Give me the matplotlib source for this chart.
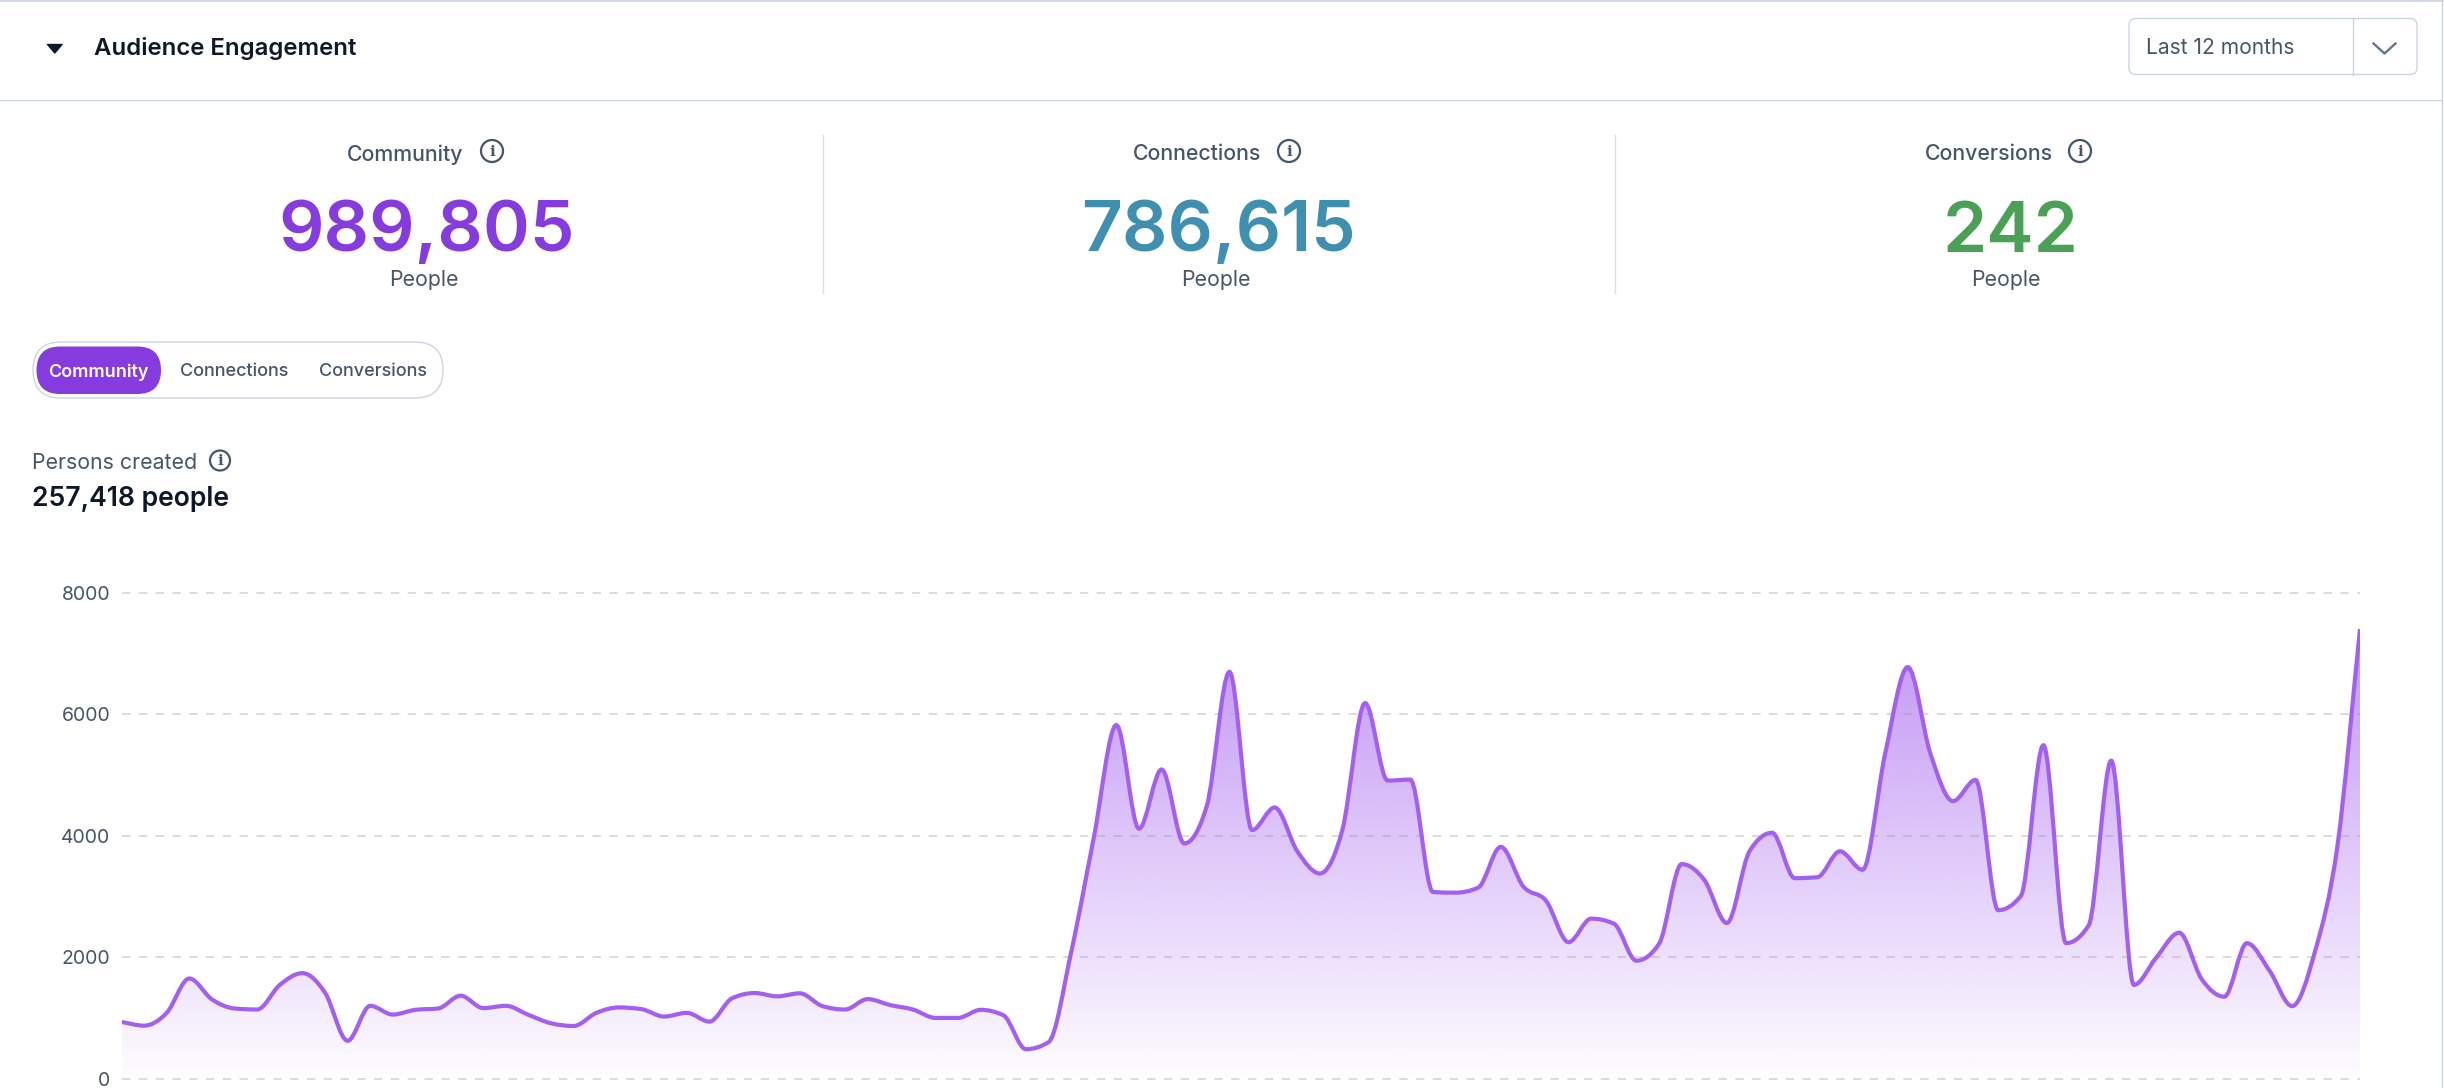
import numpy as np
import matplotlib
matplotlib.use("Agg")
import matplotlib.pyplot as plt
from matplotlib.patches import FancyBboxPatch, Circle, Polygon, PathPatch
from matplotlib.path import Path

plt.rcParams['font.family'] = ['Inter', 'DejaVu Sans']

# ---- data ----
persons_created = [
    931, 870, 1081, 1647, 1303, 1153, 1136, 1541, 1735, 1414,
    621, 1197, 1053, 1131, 1153, 1364, 1159, 1197, 1048, 909,
    865, 1081, 1170, 1142, 1020, 1081, 937, 1320, 1408, 1353,
    1403, 1192, 1136, 1308, 1209, 1136, 998, 998, 1131, 1042,
    482, 599, 2079, 3964, 5821, 4113, 5089, 3870, 4491, 6697,
    4091, 4463, 3742, 3376, 4103, 6182, 4906, 4923, 3071, 3060,
    3143, 3814, 3160, 2927, 2245, 2633, 2550, 1940, 2218, 3531,
    3271, 2561, 3742, 4047, 3299, 3315, 3742, 3437, 5350, 6775,
    5350, 4568, 4917, 2772, 3005, 5489, 2229, 2522, 5234, 1541,
    1996, 2401, 1635, 1347, 2229, 1774, 1192, 2079, 3825, 7401,
]
y_ticks = [0, 2000, 4000, 6000, 8000]
y_tick_labels = ['0', '2000', '4000', '6000', '8000']
kpi_names = ['Community', 'Connections', 'Conversions']
kpi_values = ['989,805', '786,615', '242']
kpi_units = ['People', 'People', 'People']
tab_labels = ['Community', 'Connections', 'Conversions']
title = 'Audience Engagement'
range_label = 'Last 12 months'
sub_label = 'Persons created'
sub_value = '257,418 people'

W, H = 2444, 1088
PURPLE = '#863bdf'; LINE = '#a35ff0'; BLUE = '#3f8fb0'; GREEN = '#4aa155'
GRAY = '#475569'; DARK = '#0f172a'; BORDER = '#cbd5e1'; DIVIDER = '#dcdfe3'

fig = plt.figure(figsize=(W / 100, H / 100), dpi=100, facecolor='white')

# page layer, in pixel coordinates
ui = fig.add_axes([0, 0, 1, 1])
ui.set_xlim(0, W); ui.set_ylim(H, 0); ui.axis('off')

def txt(x, y, s, size_px, color=GRAY, ha='center', weight='normal'):
    ui.text(x, y, s, fontsize=size_px * 0.72, color=color, ha=ha, va='center_baseline', fontweight=weight)

def info(x, y, r=11):
    ui.add_patch(Circle((x, y), r, fc='white', ec=GRAY, lw=1.6))
    ui.text(x, y + 0.5, 'i', fontsize=11, color=GRAY, ha='center', va='center', fontweight='bold', family='DejaVu Serif')

# borders
ui.plot([0, W], [0.8, 0.8], color=BORDER, lw=1.3)
ui.plot([0, 2441], [99.5, 99.5], color=BORDER, lw=1.0)
ui.plot([2441.5, 2441.5], [0, H], color=BORDER, lw=1.0)

# header
ui.add_patch(Polygon([[47.5, 44.5], [62, 44.5], [54.8, 53]], closed=True, fc=DARK, ec=DARK, lw=1, joinstyle='round'))
txt(94, 46, title, 24, DARK, ha='left', weight='semibold')

# dropdown
ui.add_patch(FancyBboxPatch((2129, 18.5), 288, 56, boxstyle='round,pad=0,rounding_size=7', fc='white', ec=BORDER, lw=1.0))
ui.plot([2353, 2353], [18.5, 74.5], color=BORDER, lw=1.0)
txt(2145.5, 46.5, range_label, 21, GRAY, ha='left')
ui.plot([2373.5, 2384.5, 2395.5], [43.5, 53.5, 43.5], color='#64748b', lw=1.7)

# KPIs
label_x = [405, 1197, 1989]
icon_x = [492, 1289, 2080]
value_x = [427, 1218, 2011]
unit_x = [424, 1216, 2006]
value_colors = [PURPLE, BLUE, GREEN]
for i in range(3):
    txt(label_x[i], 152.5, kpi_names[i], 21.3, GRAY, weight='medium')
    info(icon_x[i], 151)
    txt(value_x[i], 226, kpi_values[i], 71, value_colors[i], weight='semibold')
    txt(unit_x[i], 278, kpi_units[i], 21.3, GRAY)
for x in (823, 1615):
    ui.plot([x, x], [135, 293], color=DIVIDER, lw=1.0)

# tabs
ui.add_patch(FancyBboxPatch((33, 342), 410, 56, boxstyle='round,pad=0,rounding_size=28', fc='white', ec=BORDER, lw=1.0))
ui.add_patch(FancyBboxPatch((36.5, 346.5), 124.5, 47.5, boxstyle='round,pad=0,rounding_size=23.7', fc=PURPLE, ec='none'))
tab_x = [98, 234, 373.5]
tab_c = ['white', GRAY, GRAY]
for i in range(3):
    txt(tab_x[i], 370, tab_labels[i], 18, tab_c[i], weight='semibold' if i == 0 else 'medium')

# chart heading
txt(32, 461, sub_label, 21.3, GRAY, ha='left')
info(220, 460.5, 10)
txt(32, 496.5, sub_value, 26.5, DARK, ha='left', weight='semibold')

# chart
x0, x1, y8, y0 = 121.5, 2360.0, 592.7, 1078.5
ax = fig.add_axes([x0 / W, 1 - y0 / H, (x1 - x0) / W, (y0 - y8) / H], facecolor='none')
values = np.asarray(persons_created, dtype=float)
idx = np.arange(len(values))

def monotone_path(xs, ys):
    """Monotone cubic curve through the data points (curve style of the chart)."""
    h = np.diff(xs); s = np.diff(ys) / h
    m = np.zeros_like(ys)
    for k in range(1, len(ys) - 1):
        if s[k - 1] * s[k] > 0:
            m[k] = (np.sign(s[k - 1]) + np.sign(s[k])) * min(abs(s[k - 1]), abs(s[k]), 0.25 * abs(s[k - 1] + s[k]))
    m[0] = s[0]; m[-1] = s[-1]
    verts = [(xs[0], ys[0])]; codes = [Path.MOVETO]
    for k in range(len(xs) - 1):
        d = h[k] / 3
        verts += [(xs[k] + d, ys[k] + m[k] * d), (xs[k + 1] - d, ys[k + 1] - m[k + 1] * d), (xs[k + 1], ys[k + 1])]
        codes += [Path.CURVE4] * 3
    return verts, codes

verts, codes = monotone_path(idx.astype(float), values)
area_path = Path(verts + [(idx[-1], 0), (idx[0], 0), (idx[0], values[0])],
                 codes + [Path.LINETO, Path.LINETO, Path.LINETO])

rgb = matplotlib.colors.to_rgb(LINE)
n = 400
grad = np.zeros((n, 1, 4)); grad[..., :3] = rgb
grad[:, 0, 3] = np.linspace(0.66, 0.015, n)
im = ax.imshow(grad, extent=[0, len(values) - 1, 0, 7401], aspect='auto', origin='upper', zorder=1, interpolation='bilinear')
im.set_clip_path(PathPatch(area_path, transform=ax.transData))

ax.add_patch(PathPatch(Path(verts, codes), fc='none', ec=LINE, lw=3.0, zorder=3, capstyle='butt', joinstyle='round'))

ax.set_xlim(0, len(values) - 1); ax.set_ylim(0, 8000)
ax.set_xticks([])
ax.set_yticks(y_ticks); ax.set_yticklabels(y_tick_labels, fontsize=14, color=GRAY)
ax.tick_params(axis='y', length=0, pad=8)
ax.yaxis.grid(True, color='#8f8f8f', alpha=0.4, lw=1.1, linestyle=(0, (5.5, 5.5)), zorder=2)
ax.set_axisbelow(False)
for g in ax.get_ygridlines():
    g.set_clip_on(False); g.set_zorder(2)
for sp in ax.spines.values():
    sp.set_visible(False)

fig.savefig('out.png', dpi=100, facecolor='white')
